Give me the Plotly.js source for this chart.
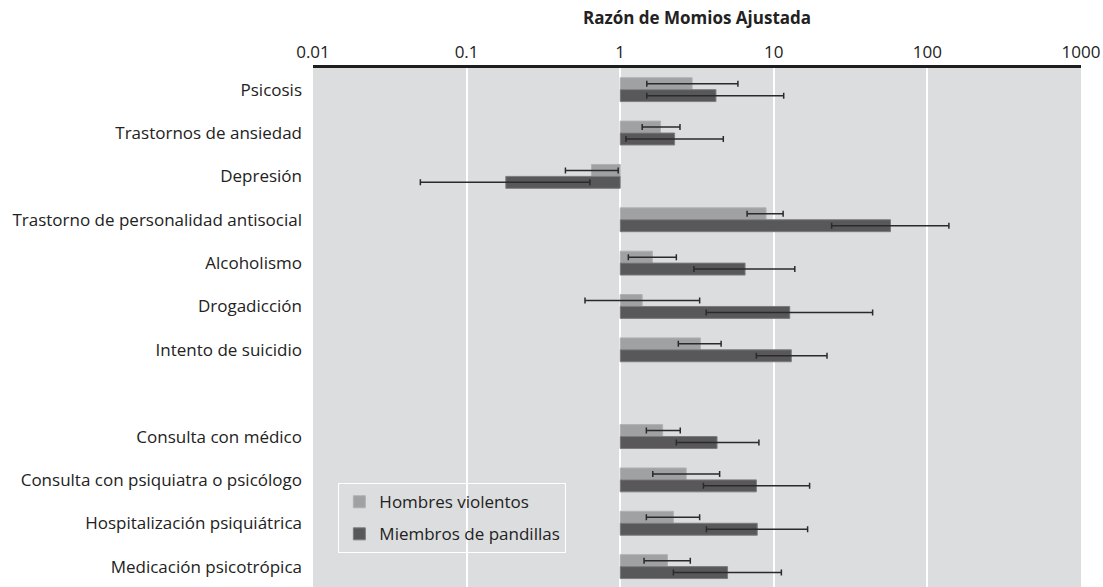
<!DOCTYPE html>
<html>
<head>
<meta charset="utf-8">
<script src="https://cdn.plot.ly/plotly-3.0.1.min.js"></script>
<style>
  html, body { margin: 0; padding: 0; background: #ffffff; }
  #chart { width: 1103px; height: 587px; }
</style>
</head>
<body>
<div id="chart"></div>
<script>
// Outcomes, top to bottom; a blank row separates the two blocks
const categories = [
  'Psicosis',
  'Trastornos de ansiedad',
  'Depresión',
  'Trastorno de personalidad antisocial',
  'Alcoholismo',
  'Drogadicción',
  'Intento de suicidio',
  'Consulta con médico',
  'Consulta con psiquiatra o psicólogo',
  'Hospitalización psiquiátrica',
  'Medicación psicotrópica'
];
const firstBlockSize = 7;

const seriesNames = ['Hombres violentos', 'Miembros de pandillas'];

// Adjusted odds ratios with 95% CI bounds
const violentOR   = [2.94, 1.83, 0.65, 8.9, 1.62, 1.39, 3.33, 1.89, 2.69, 2.22, 2.03];
const violentLow  = [1.49, 1.39, 0.44, 6.7, 1.13, 0.59, 2.39, 1.48, 1.63, 1.48, 1.43];
const violentHigh = [5.84, 2.45, 0.97, 11.5, 2.32, 3.29, 4.54, 2.46, 4.44, 3.29, 2.86];

const gangOR   = [4.2, 2.26, 0.18, 57.5, 6.5, 12.7, 13.0, 4.27, 7.7, 7.8, 5.0];
const gangLow  = [1.49, 1.09, 0.05, 23.8, 3.02, 3.63, 7.7, 2.32, 3.48, 3.64, 2.22];
const gangHigh = [11.6, 4.69, 0.635, 138, 13.7, 44, 22.2, 8.0, 17.1, 16.6, 11.2];

const xTicks = [0.01, 0.1, 1, 10, 100, 1000];
const xTickText = ['0.01', '0.1', '1', '10', '100', '1000'];

// Row positions: the second block is pushed down by one empty row
const rowPos = categories.map((c, i) => i < firstBlockSize ? i : i + 1);

const BASE = 1; // bars grow from an odds ratio of 1

function barTrace(name, group, or, low, high, color, lineColor) {
  return {
    type: 'bar',
    orientation: 'h',
    name: name,
    legendgroup: group,
    y: rowPos,
    base: or.map(() => BASE),
    x: or.map(v => v - BASE),
    marker: { color: color, line: { color: lineColor, width: 1 } },
    error_x: {
      type: 'data',
      symmetric: false,
      array: high.map((h, i) => h - or[i]),
      arrayminus: low.map((l, i) => or[i] - l),
      color: '#2a2a2a',
      thickness: 1.5,
      width: 3
    },
    hoverinfo: 'skip'
  };
}

const data = [
  barTrace(seriesNames[0], 'violent', violentOR, violentLow, violentHigh, '#a0a1a3', '#b0b1b3'),
  barTrace(seriesNames[1], 'gang', gangOR, gangLow, gangHigh, '#58585a', '#7c7c7e')
];

const font = "'Open Sans', Lato, sans-serif";

const layout = {
  width: 1103,
  height: 587,
  margin: { l: 313, r: 22, t: 68, b: 0, pad: 0 },
  paper_bgcolor: '#ffffff',
  plot_bgcolor: '#dcdddf',
  font: { family: font, size: 17, color: '#222222' },
  barmode: 'group',
  bargap: 0.45,
  bargroupgap: 0,
  title: {
    text: '<b>Razón de Momios Ajustada</b>',
    font: { family: font, size: 17, color: '#222222' },
    xref: 'paper', x: 0.5, xanchor: 'center',
    yref: 'container', y: 1 - 18 / 587, yanchor: 'middle'
  },
  xaxis: {
    type: 'log',
    side: 'top',
    range: [-2, 3],
    tickvals: xTicks,
    ticktext: xTickText,
    ticks: '',
    showgrid: true,
    gridcolor: '#ffffff',
    gridwidth: 2,
    showline: true,
    linecolor: '#1e1e1e',
    linewidth: 3,
    tickfont: { size: 17, color: '#222222' },
    fixedrange: true
  },
  yaxis: {
    range: [11.47, -0.5],
    tickvals: rowPos,
    ticktext: categories,
    ticks: '',
    ticklabelstandoff: 10,
    showgrid: false,
    zeroline: false,
    showline: false,
    tickfont: { size: 17, color: '#222222' },
    fixedrange: true
  },
  legend: {
    x: 0.033, xanchor: 'left',
    y: 0.2, yanchor: 'top',
    bgcolor: 'rgba(0,0,0,0)',
    bordercolor: '#ffffff',
    borderwidth: 1,
    font: { size: 17, color: '#222222' },
    tracegroupgap: 7
  },
  showlegend: true
};

Plotly.newPlot('chart', data, layout, { displayModeBar: false, staticPlot: true });
</script>
</body>
</html>
